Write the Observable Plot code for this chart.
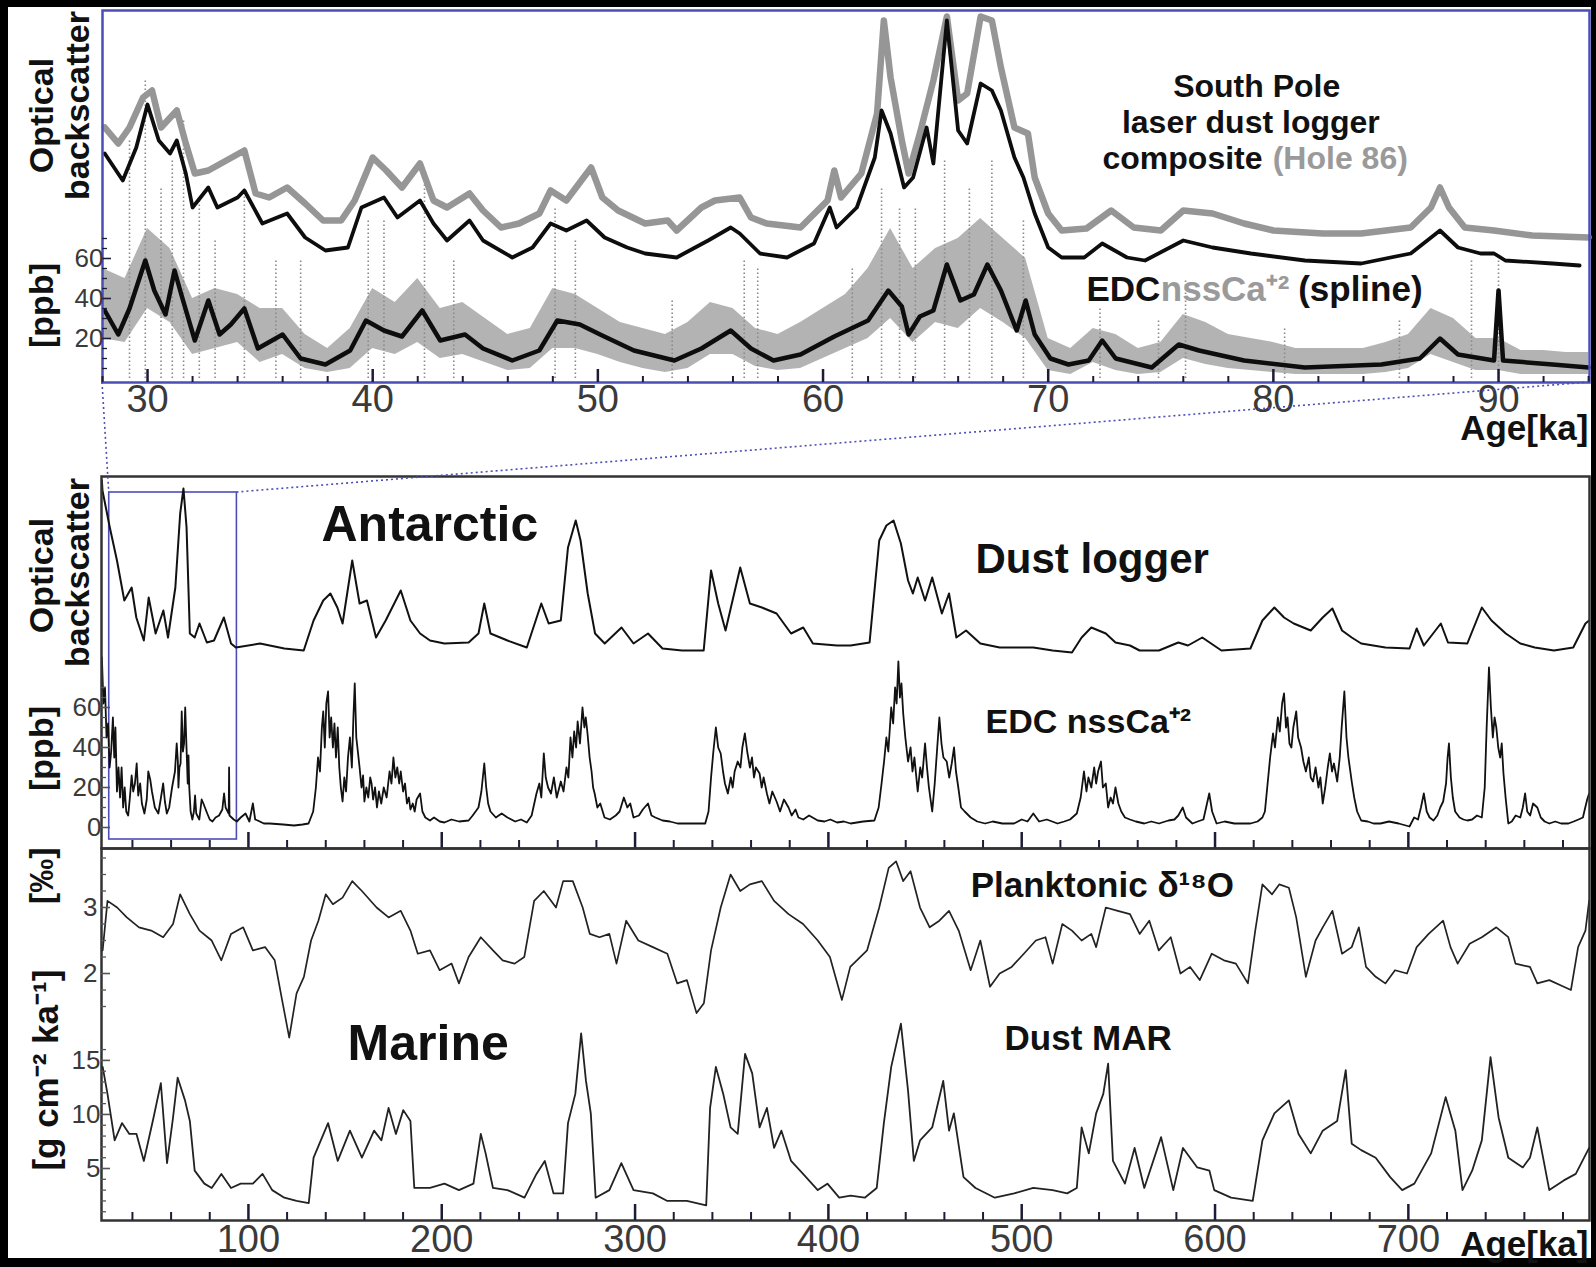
<!DOCTYPE html>
<html><head><meta charset="utf-8">
<script src="https://cdn.jsdelivr.net/npm/d3@7"></script>
<script src="https://cdn.jsdelivr.net/npm/@observablehq/plot@0.6"></script>
<style>
html,body{margin:0;padding:0;background:#000;}
#chart{position:relative;width:1596px;height:1267px;background:#000;overflow:hidden;}
#paper{position:absolute;left:8px;top:7px;width:1583px;height:1251px;background:#fff;}
#chart svg{position:absolute;left:0;top:0;}
</style></head><body><div id="chart"><div id="paper"></div></div>
<script>
// ---------------- DATA ----------------
// Top panel: South Pole laser dust logger composite (relative units), Hole 86 (relative units)
const topHole = [[28.1,125.5],[28.7,117.5],[29.2,125.5],[29.8,140.5],[30.2,144],[30.6,125.5],[31.3,134],[31.7,117.5],[32.1,102.5],[32.7,104],[33.5,109],[34.3,114],[34.8,92.5],[35.4,90.5],[36.2,95.5],[37,87.5],[37.8,79],[38.6,79],[39.2,89],[40,110.5],[40.6,104],[41.3,95.5],[42.1,107.5],[42.7,89],[43.3,85.5],[44.3,92.5],[44.9,84],[45.7,75.5],[46.5,77.5],[47.4,82.5],[47.9,94],[48.6,89],[49.7,105.5],[50.2,90.5],[50.9,84],[52.1,77.5],[53.1,79],[53.5,74],[54.6,85.5],[55.2,89],[56.3,90.5],[56.8,80.5],[57.5,77.5],[59,75.5],[60.2,89],[60.5,104],[60.8,90.5],[61.7,102.5],[62.4,132.5],[62.7,179],[63,150.5],[63.5,119],[63.8,102.5],[64.3,122.5],[64.9,149],[65.5,181],[66,139],[66.4,142.5],[67,181],[67.5,179],[67.9,155.5],[68.5,125.5],[69.1,122.5],[69.4,100.5],[70,82.5],[70.6,74],[71.7,75],[72.8,84],[73.8,75.5],[75,74],[76,84],[77.3,82.5],[78.7,77.5],[80,74],[82.2,72.5],[83.9,72.5],[86.1,75.5],[87,85.5],[87.4,95.5],[87.8,85.5],[88.5,75.5],[89.8,74],[91.5,71.5],[94,70.5]];
const topComposite = [[28.1,112.5],[28.9,99],[29.5,115.5],[30,137],[30.5,119],[31,112.5],[31.3,119],[31.7,102.5],[32,85.5],[32.7,95.5],[33.1,85.5],[34,90.5],[34.3,94],[35.1,77.5],[36.2,82.5],[37,70.5],[37.9,64],[38.9,65.5],[39.5,85.5],[40.5,90.5],[41.1,80.5],[42.1,89],[42.7,77.5],[43.3,69],[44.3,79],[44.9,69],[46.2,60.5],[47.1,65.5],[47.9,77.5],[48.6,74],[49.5,79],[50.3,70.5],[51.3,65.5],[52.1,62.5],[53.5,60.5],[54.9,69],[55.9,75.5],[56.3,72.5],[57.2,62.5],[58.4,60.5],[59.6,67.5],[60.3,85.5],[60.6,75.5],[61.5,85.5],[62.3,110.5],[62.6,134],[63,122.5],[63.6,95.5],[64,100.5],[64.6,125.5],[64.9,107.5],[65.5,179],[66,124],[66.4,117.5],[67,147.5],[67.5,144],[67.9,134],[68.5,110.5],[68.9,100.5],[69.4,82.5],[70,65.5],[70.6,60.5],[71.6,60.5],[72.4,67.5],[73.5,60.5],[74.3,59],[76,69],[77.3,65.5],[79,62.5],[81.4,59],[83.9,57.5],[86.1,62.5],[87.4,74],[88.2,65.5],[89.2,62.5],[89.8,62.5],[90.3,59],[92.4,57.5],[93.6,56.5]];
// EDC nssCa (ppb) spline, 28-94 ka
const topSpline = [[28.1,34],[28.7,22],[29.2,35],[29.9,59],[30.3,44],[30.8,32],[31.2,54],[31.5,42],[32.1,19],[32.7,39],[33.2,22],[33.7,27],[34.3,35],[34.9,15],[36,22],[36.8,10],[37.9,7],[39,14],[39.7,29],[40.5,24],[41.3,21],[42.2,34],[43,19],[44.1,22],[44.9,15],[46.2,9],[47.4,14],[48.2,29],[49.2,27],[50.1,22],[51.6,14],[53.4,9],[54.6,15],[55.9,24],[56.8,15],[57.8,9],[59,12],[60.5,21],[62,29],[62.9,44],[63.5,36],[63.8,22],[64.3,31],[64.9,34],[65.5,57],[66.1,39],[66.7,42],[67.3,57],[67.9,44],[68.6,24],[69,39],[69.4,22],[70.1,10],[70.9,7],[71.8,9],[72.4,19],[73,10],[74.6,5.5],[75.8,17],[76.7,14],[78.7,9],[81.4,5.5],[84.8,7],[86.5,10],[87.4,20],[88.2,12],[89.8,9],[90,44],[90.2,9],[92.4,7],[94,5.5]];
// raw nssCa scatter envelope (ppb), 1-ka steps from 28 ka
const rawAge = [28,29,30,31,32,33,34,35,36,37,38,39,40,41,42,43,44,45,46,47,48,49,50,51,52,53,54,55,56,57,58,59,60,61,62,63,64,65,66,67,68,69,70,71,72,73,74,75,76,77,78,79,80,81,82,83,84,85,86,87,88,89,90,91,92,93,94];
const rawUpper = [55,50,75,65,40,45,42,35,35,22,15,25,45,38,50,35,38,30,22,25,45,42,35,28,25,22,28,38,35,25,22,28,35,42,55,75,55,65,70,80,70,60,20,15,25,22,15,18,32,28,22,20,18,15,15,15,15,18,22,35,30,20,20,14,14,13,13];
const rawLower = [20,18,35,28,12,15,18,8,12,5,3,5,15,12,18,10,12,8,4,5,15,15,12,8,5,3,5,12,12,6,4,5,10,15,20,30,18,28,25,35,28,20,4,2,8,4,2,3,10,7,5,4,3,2,2,2,2,3,5,12,8,4,4,2,2,2,2];
// isolated high raw samples (ka, ppb)
const rawSpikes = [[29.2,120],[29.9,150],[30.6,95],[31.1,110],[31.6,130],[32.3,90],[33,70],[34.3,95],[35.7,60],[36.8,60],[39.8,80],[40.5,80],[42.3,100],[43.6,60],[48.1,85],[49,70],[53.3,40],[56.5,60],[57.1,55],[61.3,55],[62.6,95],[63.4,85],[64.1,85],[65.4,110],[66.5,95],[67.5,110],[68.9,80],[72.3,35],[74.9,30],[76.1,50],[80.5,25],[85.6,30],[88.8,60],[90,60]];

// Middle panel: Antarctic dust logger (relative units) and EDC nssCa (ppb)
const dustLogger = [[24.2,173.5],[24.5,168.5],[28.3,150],[32,133.5],[35.8,113.5],[39.6,120],[42,105],[45.9,93.5],[48.4,115],[52,97],[56,108.5],[58.4,95],[62.2,120],[64.7,157],[66.4,169.5],[68,150],[69.7,97],[72.2,95],[74.7,102],[78.5,92.5],[82.2,93.5],[87.3,105],[91,92],[93.5,90],[106,92],[118.6,89.5],[128.6,88.5],[133.7,103.5],[138.7,113.5],[142.4,117],[146,110],[148.7,102],[153.7,133.5],[157.5,112],[161.3,113.5],[166,95],[171,103.5],[178.8,118.5],[183.8,103.5],[188.8,97],[193.9,93.5],[201.4,92],[213.9,92.5],[219,97],[222,112],[225.2,97],[234,93.5],[244,90],[251.5,112],[255.3,102],[261.6,103.5],[265.3,140],[269.3,153.5],[271.8,143.5],[275.5,117],[279.3,97],[284.3,92],[293,100],[299.2,92],[306.7,97],[314.2,89.5],[324.3,88.5],[335.5,88.5],[339.3,128.5],[343,112],[346.8,98.5],[354.4,130],[359.4,112],[365.6,110],[373.2,107],[380.7,97],[387,100],[392,92],[404.5,91],[411.5,91],[421.3,92.5],[426.3,143.5],[430,151],[433.7,153.5],[437.5,142],[441.2,123.5],[443.7,117],[446.2,125],[450,113.5],[453.7,125],[458.7,107],[462.4,117],[466.2,95],[471.2,98.5],[478.6,92],[488.6,90],[506,90],[516,88.5],[526,87.5],[531,95],[536,100],[543.5,97],[548.5,92.5],[556,91],[561,88.5],[571,88.5],[581,92.5],[586,91],[593.4,95],[603.3,88.5],[618.3,89.5],[624.5,103.5],[630.7,110],[635.7,105],[640.7,102],[649.5,98.5],[655.7,105],[660.7,109.5],[665.7,98.5],[670.7,95],[675.6,92],[688.1,90],[700.6,89.5],[704.3,99.5],[708,91],[716.8,102],[720.5,92.5],[730.5,92],[738,110],[743,103.5],[750.4,97],[757.9,92],[765.4,90],[775.3,88.5],[785.3,90],[791.6,102],[793.5,103.5]];
const nssCa = [[24.2,85],[25,62],[25.8,70],[26.6,45],[27.4,52],[28.2,30],[29,38],[29.9,55],[30.6,35],[31.2,50],[32,18],[32.8,30],[33.6,15],[34.4,30],[35.2,10],[36,20],[36.8,8],[37.8,6],[38.6,14],[39.6,26],[40.4,18],[41.3,22],[42.2,32],[43,16],[44,22],[44.9,12],[46.2,7],[47.4,14],[48.2,28],[49.2,24],[50.1,18],[51.6,10],[53.4,7],[54.6,14],[55.9,22],[56.8,13],[57.8,7],[59,10],[60.5,20],[62,28],[62.9,42],[63.5,33],[63.8,20],[64.3,30],[64.9,32],[65.5,58],[66.1,38],[66.7,42],[67.3,60],[67.9,42],[68.6,22],[69,36],[69.4,20],[70.1,8],[71,4],[71.8,8],[72.4,16],[73,7],[74.6,4],[75.8,14],[76.7,12],[78.7,7],[80,4],[81.4,3],[83,5],[84.8,6],[86.5,9],[87.4,17],[88.2,10],[89.8,7],[90,30],[90.2,6],[92.4,4],[94,3],[96,5],[98.5,7],[100.5,3],[102.3,12],[103.5,4],[104.8,3.5],[108,2],[111,2],[118,1.5],[123.6,1],[128,1.5],[131.1,2],
[133.5,8],[134.9,20],[136,35],[137,28],[138,50],[138.7,58],[139.5,40],[140.3,62],[141.2,68],[142,45],[142.8,55],[143.7,40],[144.5,52],[145.3,35],[146.2,50],[147,30],[147.8,20],[148.7,13],[149.6,25],[150.5,18],[151.5,35],[152.5,45],[153.5,30],[154.3,55],[155,72],[155.8,45],[156.6,38],[157.5,30],[158.5,20],[159.3,26],[160,13],[161,20],[162,15],[163,25],[163.7,22],[164.5,14],[165.5,20],[166.5,10],[167.5,18],[168.7,12],[170,20],[171.5,15],[173,28],[174,22],[175,35],[176,25],[177,30],[178,22],[178.8,28],[180,18],[181,22],[182,12],[183,15],[183.8,9],[185,12],[186,8],[187,14],[188.8,17],[190,8],[191.5,5],[193.9,3.5],
[196,5],[199,3],[201.4,2.5],[205,4],[209,3],[213.9,3.5],[216,6],[219,10],[220.5,18],[222,32],[223,20],[224,12],[225.2,8],[228,5],[231,7],[234,5],[238,3],[241,4],[244,2.5],[246.5,6],[249,17],[250.5,22],[251.5,15],[252.8,37],[253.8,25],[255,20],[256.5,17],[258,25],[259.5,15],[261.6,23],[263,18],[264.5,30],[265.5,25],[266.6,45],[267.6,35],[268.5,48],[269.5,40],[270.3,53],[271.5,42],[272.8,60],[273.8,50],[274.5,55],[275.4,47],[276.5,35],[277.5,28],[278.3,20],[279.1,17],[280.5,10],[282,12],[284.2,5],[287,4],[290,6],[292,8],[294.2,15],[296,10],[297.5,12],[299.2,5],[302,6],[304,9],[306.7,12],[308.5,6],[310.5,5],[314.2,3.5],[318,3],[322,2],[326.7,2],[331,2],[336.3,2],
[338,8],[339.3,25],[340.5,38],[341.8,50],[343,40],[344.3,37],[345.5,28],[346.5,22],[348,17],[349.5,25],[350.5,20],[351.5,28],[353.1,33],[354.5,30],[355.5,40],[356.8,47],[358,38],[359.4,30],[360.5,35],[361.5,25],[362.5,30],[364.4,27],[365.5,20],[366.5,25],[368.2,17],[369.5,12],[371,18],[373.2,13],[375,8],[377,14],[379.4,10],[381,6],[383,9],[384.5,5],[387,4],[390,6],[394.5,3.5],[398,3],[401,4],[404.5,2.5],[408,3],[411.5,2],
[418,3],[423.8,3.5],[426,10],[427.5,22],[428.8,33],[430,45],[431,38],[432.5,60],[433.5,52],[434.5,70],[435.3,62],[436.2,83],[437,65],[437.8,72],[438.7,57],[439.8,45],[441.2,33],[442.5,40],[443.5,28],[444.5,35],[446.2,18],[447.5,30],[448.5,25],[450,42],[451,30],[452,20],[453.7,8],[455,22],[456.3,40],[457.4,55],[458.5,42],[459.5,35],[461.2,33],[462.5,25],[463.8,32],[465,40],[466,28],[467.2,20],[468.6,10],[470.5,8],[473.6,5],[477,3],[481.1,2],
[485,3],[490,2],[496,2],[500,4],[503,3],[506,7],[509,3],[513,4],[518.5,2],[522,3],[525,4],[528.5,7],[530.5,15],[532.2,28],[533.5,18],[534.5,25],[536,20],[537.5,30],[538.5,22],[539.5,28],[541,33],[542,20],[543.5,22],[544.7,10],[546,15],[547.2,12],[548.5,20],[550,12],[551.5,8],[553.4,5],[556,4],[559,3],[563.4,2],[567,3],[571,2],[575.9,3.5],[579,4],[581,6],[583.3,10],[585,5],[588.3,2],[591,3],[594,4],[597,17],[598.5,8],[600.8,2],[605,3],[610,2],[614,2],[618.3,2],[622,3],
[624.5,5],[625.8,8],[627,20],[628.5,35],[630,47],[631,40],[632.5,55],[633.5,48],[634.7,62],[635.7,67],[636.7,50],[637.5,55],[638.5,42],[639.5,40],[640.5,50],[642,58],[643,45],[644.5,40],[645.7,33],[647,28],[648.5,35],[649.5,25],[650.7,23],[652,30],[653.5,20],[654.5,25],[655.7,12],[657,20],[658.3,30],[659.4,37],[660.5,28],[661.5,32],[663.2,23],[664.5,35],[665.5,50],[666.9,68],[668,45],[669,35],[670.7,23],[672,15],[673.5,8],[675.6,3.5],[679,3],[682,2],[685.6,2],
[690,3],[695,2],[700.6,0.5],[703,5],[705,4],[706.5,10],[708,17],[709.5,8],[711,5],[713,3.5],[715,6],[716.5,10],[718,13],[719.5,22],[720.3,35],[721,42],[722,25],[723,15],[724.2,8],[726.5,5],[728.5,4],[730.5,3.5],[733,4],[735.5,6],[738,5],[739.5,20],[740.5,50],[741.7,80],[742.7,60],[743.7,45],[744.6,55],[745.5,50],[746.5,40],[747.5,35],[748.3,42],[749.2,27],[750.3,15],[751.7,2],[753.5,3],[755.5,6],[757.9,5],[759.2,10],[760.4,17],[761.5,8],[763,6],[764.5,12],[766.7,10],[768.5,5],[770.5,3],[772.9,2],[776,3],[779,2],[782.8,2],[785.5,3],[788,4],[790.3,5],[791.5,10],[792.5,14],[793.5,17]];

// Bottom panel: planktonic d18O (per mil) and dust MAR (g cm-2 ka-1)
const d18O = [[24.6,2.35],[27.1,3.1],[32.1,3.0],[37.1,2.85],[43.4,2.7],[49.7,2.65],[55.9,2.55],[61,2.75],[64.7,3.2],[69.7,2.9],[74.7,2.65],[81,2.5],[86,2.2],[91,2.6],[97.3,2.7],[102.3,2.35],[108.6,2.4],[113.6,2.2],[117.4,1.6],[121.1,1.03],[124.9,1.7],[128.7,1.95],[132.4,2.5],[136.2,2.8],[140,3.2],[143.7,3.05],[148.7,3.15],[153.7,3.4],[158.7,3.25],[166.3,3.0],[172.5,2.85],[178.8,2.95],[183.8,2.65],[187.6,2.3],[193.9,2.35],[198.9,2.05],[205.1,2.15],[208.9,1.85],[213.9,2.25],[220.2,2.55],[226.5,2.35],[231.5,2.2],[237.7,2.15],[242.7,2.25],[247.8,3.1],[252.8,3.25],[259.1,3.0],[262.8,3.4],[267.8,3.4],[272.9,3.0],[276.6,2.6],[281.6,2.55],[286.7,2.6],[290.4,2.15],[295.4,2.8],[301.7,2.5],[309.2,2.4],[316.7,2.3],[321.8,1.85],[326.8,1.9],[331.8,1.4],[335.6,1.55],[339.3,2.35],[344.3,3.0],[349.4,3.5],[354.4,3.25],[359.4,3.35],[365.6,3.4],[371.9,3.1],[379.4,2.9],[386.9,2.75],[394.5,2.5],[400.8,2.25],[407,1.6],[411.3,2.1],[420,2.35],[426.3,3.0],[431.2,3.6],[435,3.7],[438.7,3.4],[442.5,3.55],[447.4,3.0],[452.4,2.7],[457.4,2.8],[462.4,2.95],[467.4,2.65],[473.6,2.05],[478.6,2.5],[483.6,1.8],[488.6,2.0],[494.8,2.1],[501.1,2.3],[507.3,2.5],[512.3,2.55],[516,2.15],[521,2.75],[526,2.65],[531,2.5],[536,2.6],[538.5,2.4],[543.5,3.0],[549.7,2.95],[556,2.9],[561,2.6],[566,2.8],[570.9,2.35],[577.1,2.55],[582.1,2.0],[587.1,2.1],[592.1,1.9],[598.3,2.3],[604.6,2.2],[610.8,2.15],[617,1.85],[620.8,2.65],[624.5,3.35],[629.5,3.2],[633.2,3.35],[638.2,3.3],[642,2.85],[647,1.95],[652,2.5],[655.7,2.7],[660.7,2.95],[665.7,2.3],[670.7,2.4],[674.4,2.7],[678.1,2.1],[683.1,1.95],[688.1,1.85],[693.1,2.05],[699.3,2.0],[704.3,2.4],[710.5,2.6],[718,2.8],[721.8,2.4],[725.5,2.15],[731.7,2.45],[738,2.55],[745.5,2.7],[751.7,2.55],[755.4,2.15],[762.9,2.1],[766.7,1.85],[772.9,1.9],[780.4,1.8],[784.1,1.75],[787.8,2.4],[791.6,2.65],[793.5,3.1]];
const dustMAR = [[24.6,14.4],[27.1,11.9],[30.8,7.6],[34.6,9.2],[38.4,8.2],[42.1,8.2],[45.9,5.7],[50.9,9.7],[54.7,12.9],[57.9,5.5],[61,9.7],[63.4,13.4],[67.2,11.3],[69.7,9.4],[72.2,4.8],[77.2,3.6],[81,3.2],[86,4.5],[91,3.2],[96,3.6],[102.3,3.6],[107.3,4.5],[112.3,3.0],[118.6,2.3],[124.9,2.0],[131.2,1.8],[133.7,6.0],[141.2,9.2],[146.2,5.7],[152.5,8.5],[158.7,6.0],[165,8.5],[168.8,7.6],[172.5,10.6],[176.3,8.2],[180.1,10.4],[183.8,9.4],[185.8,3.2],[193.9,3.2],[201.4,3.6],[208.9,3.0],[216.4,3.6],[220.2,8.2],[222.7,6.4],[226.5,3.2],[234,3.0],[242.8,2.3],[249,4.5],[253.3,5.7],[257.8,2.7],[262.8,2.7],[265.3,9.2],[269.1,11.9],[272.1,17.5],[274.6,13.1],[277.1,10.1],[279.6,2.3],[286.7,3.0],[292.9,5.5],[299.2,3.0],[309.2,2.7],[316.7,2.0],[326.8,2.0],[336.8,1.6],[338.8,10.6],[341.8,14.4],[345.6,11.9],[349.4,8.8],[353.1,8.2],[356.9,15.6],[360.6,13.8],[364.4,8.8],[368.2,10.6],[371.9,6.9],[375.7,8.5],[380.7,5.7],[386.9,4.5],[394.5,3.0],[399.5,3.6],[405.6,2.3],[411.5,2.5],[418.8,2.3],[425,3.2],[428.7,9.2],[432.5,14.4],[437.5,18.4],[441.2,12.2],[444.2,5.7],[447.4,7.6],[453.7,8.8],[459.4,13.1],[462.4,8.5],[464.9,10.1],[469.9,4.2],[476.1,3.2],[486.1,2.3],[496.1,2.7],[506,3.2],[516,3.0],[523.5,2.7],[528.5,3.2],[531,8.8],[534.7,6.4],[538.5,10.1],[542.2,11.9],[544.7,14.7],[547.2,5.7],[553.4,3.6],[558.4,6.9],[563.4,3.2],[572.1,7.9],[578.4,3.0],[583.4,6.9],[590.8,5.1],[597.1,4.8],[599.6,3.0],[608.3,2.3],[619.5,2.0],[624.5,7.6],[630.7,10.1],[638.2,11.3],[643.2,8.2],[649.5,6.4],[655.7,8.5],[663.2,9.4],[667.6,14.1],[670.7,7.3],[675.6,6.7],[683.1,6.0],[690.6,4.2],[696.8,3.0],[703.1,3.6],[711.8,6.4],[719.3,11.6],[724.3,8.5],[728,3.0],[733,4.8],[738,7.6],[742.5,15.3],[746.7,9.7],[751.7,6.0],[759.2,5.1],[762.9,6.0],[766.7,8.8],[772.9,3.0],[780.4,3.9],[786.6,4.5],[793.5,6.9]];

// tick values
const topAgeTicks = [30,40,50,60,70,80,90];
const longAgeTicks = [100,200,300,400,500,600,700];
const ppbTicks = [20,40,60];
const ppbTicksMid = [0,20,40,60];
const d18OTicks = [2,3];
const marTicks = [5,10,15];

// ---------------- LAYOUT / STYLE ----------------
const W = 1596, H = 1267;
const FONT = "'Liberation Sans', Arial, Helvetica, sans-serif";
const BLUE = "#4d4db8";
const FRAME = "#333333";
const TICK = "#1c1c36";
const LABEL = "#3a3a3a";
const topBox = {left: 102, right: 1589, top: 10, bottom: 382};
const midBox = {left: 101, right: 1589, top: 476, bottom: 848};
const botBox = {left: 101, right: 1589, top: 848, bottom: 1220};
const topAgeDomain = [28.0, 94.04];
const longAgeDomain = [24, 793.7];
const topYDomain = [-2, 184];
const midYDomain = [-10.5, 175.5];
const d18ODomain = [-1.742, 3.894];
const marDomain = [0.19, 34.6];

const ph = b => b.bottom - b.top;
const pw = b => b.right - b.left;

function layer(box, xDomain, yDomain, marks) {
  return Plot.plot({
    width: W, height: H,
    marginLeft: box.left, marginRight: W - box.right,
    marginTop: box.top, marginBottom: H - box.bottom,
    x: {domain: xDomain, axis: null},
    y: {domain: yDomain, axis: null},
    style: {background: "transparent", fontFamily: FONT, overflow: "visible"},
    marks
  });
}
function xTickMarks(box, major, minor, majLen, minLen, color) {
  return [
    Plot.ruleX(minor, {x: d => d, insetTop: ph(box) - minLen, stroke: color, strokeWidth: 2}),
    Plot.ruleX(major, {x: d => d, insetTop: ph(box) - majLen, stroke: color, strokeWidth: 2.5})
  ];
}
function yTickMarks(box, major, minor, majLen, minLen, color) {
  return [
    Plot.ruleY(minor, {y: d => d, insetRight: pw(box) - minLen, stroke: color, strokeWidth: 1.3}),
    Plot.ruleY(major, {y: d => d, insetRight: pw(box) - majLen, stroke: color, strokeWidth: 1.6})
  ];
}
function yLabels(ticks, dx) {
  return Plot.text(ticks, {y: d => d, frameAnchor: "left", textAnchor: "end", dx, text: d => String(d), fontSize: 26, fill: LABEL});
}
function rotLabel(txt, y, dx, size = 34) {
  return Plot.text([txt], {y, frameAnchor: "left", textAnchor: "middle", dx, rotate: -90, text: d => d, fontSize: size, fontWeight: "bold", fill: "#111"});
}
function label(txt, x, y, opts = {}) {
  return Plot.text([txt], {x, y, text: d => d, lineAnchor: "bottom", fontWeight: "bold", fill: "#111", ...opts});
}

const topMinor = d3.range(28, 95, 2).filter(d => d % 10 !== 0);
const longMinor = d3.range(40, 794, 20).filter(d => d % 100 !== 0);
const ppbMinor = d3.range(5, 71, 5).filter(d => d % 20 !== 0);
const d18OMinor = d3.range(1.5, 3.8, 0.25).filter(d => Math.abs(d - Math.round(d)) > 0.01);
const marMinor = d3.range(1, 17, 1).filter(d => d % 5 !== 0);

const raw = rawAge.map((a, i) => ({age: a, lo: rawLower[i], hi: rawUpper[i]}));

// ---------------- TOP PANEL ----------------
const topPlot = layer(topBox, topAgeDomain, topYDomain, [
  Plot.areaY(raw, {x: "age", y1: "lo", y2: "hi", fill: "#ababab", fillOpacity: 0.9}),
  Plot.ruleX(rawSpikes, {x: d => d[0], y1: 0, y2: d => d[1], stroke: "#8a8a8a", strokeWidth: 1.6, strokeDasharray: "1.5,2.5"}),
  Plot.line(topSpline, {x: d => d[0], y: d => d[1], stroke: "#0d0d0d", strokeWidth: 4.5}),
  Plot.line(topHole, {x: d => d[0], y: d => d[1], stroke: "#969696", strokeWidth: 6.5}),
  Plot.line(topComposite, {x: d => d[0], y: d => d[1], stroke: "#0d0d0d", strokeWidth: 3.8}),
  Plot.frame({stroke: BLUE, strokeWidth: 2.5}),
  ...xTickMarks(topBox, topAgeTicks, topMinor, 13, 6, TICK),
  ...yTickMarks(topBox, ppbTicks, ppbMinor, 9, 5, TICK),
  Plot.text(topAgeTicks, {x: d => d, frameAnchor: "bottom", dy: 29, text: d => String(d), fontSize: 38, fill: LABEL}),
  yLabels(ppbTicks, 1),
  Plot.text(["Age[ka]"], {frameAnchor: "bottom-right", dy: 57, dx: -1, lineAnchor: "bottom", textAnchor: "end", text: d => d, fontSize: 35, fontWeight: "bold", fill: "#111"}),
  rotLabel("Optical", 131.5, -60),
  rotLabel("backscatter", 136.5, -24),
  rotLabel("[ppb]", 36.5, -60),
  label("South Pole", 79.26, 141, {fontSize: 32}),
  label("laser dust logger", 79.0, 123, {fontSize: 32}),
  label("composite", 79.52, 105, {fontSize: 32, textAnchor: "end"}),
  label("(Hole 86)", 79.97, 105, {fontSize: 32, textAnchor: "start", fill: "#9a9a9a"}),
  label("EDC", 71.7, 39, {fontSize: 35, textAnchor: "start"}),
  label("nssCa\u207A\u00B2", 75.0, 39, {fontSize: 35, textAnchor: "start", fill: "#9a9a9a"}),
  label("(spline)", 81.1, 39, {fontSize: 35, textAnchor: "start"})
]);

// ---------------- MIDDLE PANEL ----------------
const midPlot = layer(midBox, longAgeDomain, midYDomain, [
  Plot.rect([0], {x1: topAgeDomain[0], x2: topAgeDomain[1], insetTop: 16, insetBottom: 9, stroke: BLUE, strokeWidth: 1.6, fill: "none"}),
  Plot.line(dustLogger, {x: d => d[0], y: d => d[1], stroke: "#111", strokeWidth: 2}),
  Plot.line(nssCa, {x: d => d[0], y: d => d[1], stroke: "#111", strokeWidth: 1.8}),
  Plot.frame({stroke: FRAME, strokeWidth: 2.5}),
  ...xTickMarks(midBox, longAgeTicks, longMinor, 16, 8, TICK),
  ...yTickMarks(midBox, ppbTicksMid, ppbMinor, 9, 5, "#555"),
  yLabels(ppbTicksMid, 0),
  rotLabel("Optical", 126, -59),
  rotLabel("backscatter", 127.5, -23),
  rotLabel("[ppb]", 39.5, -59),
  label("Antarctic", 137.8, 143.5, {fontSize: 50, textAnchor: "start"}),
  label("Dust logger", 476.1, 127.5, {fontSize: 42, textAnchor: "start"}),
  label("EDC nssCa\u207A\u00B2", 481.3, 47.5, {fontSize: 34, textAnchor: "start"})
]);

// ---------------- BOTTOM PANEL (two y scales) ----------------
const d18OPlot = layer(botBox, longAgeDomain, d18ODomain, [
  Plot.line(d18O, {x: d => d[0], y: d => d[1], stroke: "#222", strokeWidth: 1.7}),
  Plot.frame({stroke: FRAME, strokeWidth: 2.5}),
  ...xTickMarks(botBox, longAgeTicks, longMinor, 16, 8, TICK),
  ...yTickMarks(botBox, d18OTicks, d18OMinor, 9, 5, "#555"),
  yLabels(d18OTicks, -4),
  Plot.text(longAgeTicks, {x: d => d, frameAnchor: "bottom", dy: 31, text: d => String(d), fontSize: 38, fill: LABEL}),
  Plot.text(["Age[ka]"], {frameAnchor: "bottom-right", dy: 35, dx: -1, lineAnchor: "bottom", textAnchor: "end", text: d => d, fontSize: 35, fontWeight: "bold", fill: "#111"}),
  rotLabel("[\u2030]", 3.48, -59),
  label("Planktonic \u03B4\u00B9\u2078O", 473.6, 3.152, {fontSize: 35, textAnchor: "start"})
]);
const marPlot = layer(botBox, longAgeDomain, marDomain, [
  Plot.line(dustMAR, {x: d => d[0], y: d => d[1], stroke: "#222", strokeWidth: 1.8}),
  ...yTickMarks(botBox, marTicks, marMinor, 9, 5, "#555"),
  yLabels(marTicks, -1),
  rotLabel("[g cm\u207B\u00B2 ka\u207B\u00B9]", 14.1, -55, 35),
  label("Marine", 151.3, 15.0, {fontSize: 50, textAnchor: "start"}),
  label("Dust MAR", 491.1, 15.93, {fontSize: 35, textAnchor: "start"})
]);

const chart = document.getElementById("chart");
[topPlot, midPlot, d18OPlot, marPlot].forEach(p => chart.appendChild(p));

// zoom connectors (dotted) from top-panel axis ends to the box in the middle panel
const xTop = topPlot.scale("x"), xMid = midPlot.scale("x");
const conn = d3.create("svg").attr("width", W).attr("height", H);
const boxTop = midBox.top + 16;
[topAgeDomain[0], topAgeDomain[1]].forEach(a => {
  conn.append("line")
    .attr("x1", xTop.apply(a)).attr("y1", topBox.bottom)
    .attr("x2", xMid.apply(a)).attr("y2", boxTop)
    .attr("stroke", BLUE).attr("stroke-width", 1.6).attr("stroke-dasharray", "2,3");
});
chart.appendChild(conn.node());
</script>
</body></html>
